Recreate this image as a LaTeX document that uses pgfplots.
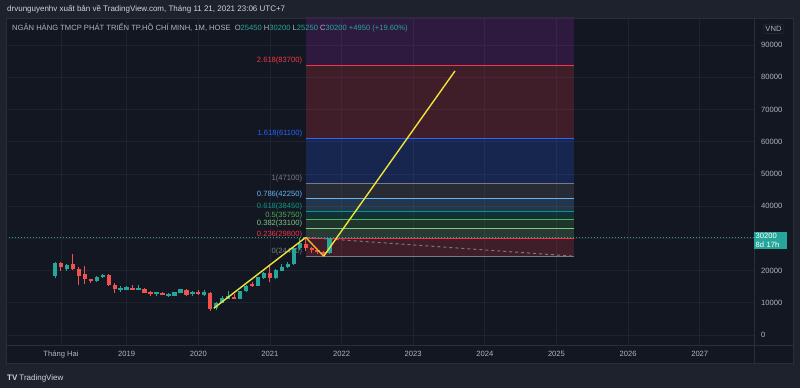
\documentclass[border=0pt]{standalone}
\usepackage{fontspec}
\setmainfont{Liberation Sans}
\usepackage{pgfplots}
\usepackage{pgfplotstable}
\pgfplotsset{compat=1.18}
\definecolor{outerbg}{HTML}{1E222D}
\definecolor{panebg}{HTML}{131722}
\definecolor{bordc}{HTML}{2A2E39}
\definecolor{gridc}{HTML}{1F2330}
\definecolor{axtext}{HTML}{B2B5BE}
\definecolor{toptext}{HTML}{D1D4DC}
\definecolor{tvteal}{HTML}{26A69A}
\definecolor{tvred}{HTML}{EF5350}
\definecolor{fgray}{HTML}{787B86}
\definecolor{fred}{HTML}{F23645}
\definecolor{flgreen}{HTML}{81C784}
\definecolor{fgreen}{HTML}{4CAF50}
\definecolor{fteal}{HTML}{089981}
\definecolor{flblue}{HTML}{64B5F6}
\definecolor{fblue}{HTML}{2962FF}
\definecolor{fpurple}{HTML}{9C27B0}
\definecolor{tlyellow}{HTML}{F2E23A}
\definecolor{tlorange}{HTML}{F5B027}

% monthly candles, m = months since Jan 2018
\pgfplotstableread{
m o h l c
0 18300 22750 17600 22250
2 20600 22000 20000 21800
7 16850 18300 16550 18100
8 18100 18800 17750 18550
11 14200 15300 13500 14500
12 14300 15200 14000 14600
14 14200 15400 14100 14500
17 12900 13150 12100 13050
19 12300 12950 11900 12550
20 12200 13400 12000 13250
21 13150 14300 12900 14200
23 12900 13700 12200 13150
25 12450 13900 12200 13350
27 8450 10250 7900 10050
28 10050 12000 9900 11600
29 11500 13750 11300 11750
31 11300 13800 11100 13750
32 13750 15500 13500 15200
34 15300 18000 15100 17900
35 17650 19500 17400 19350
37 17800 20500 17500 20150
38 20000 21950 19800 21250
39 21100 22750 20800 22050
40 22000 27000 21600 26900
41 26900 30000 26300 28450
46 25450 30200 25250 30200
}\upcandles
\pgfplotstableread{
m o h l c
1 22250 22750 19950 21200
3 21900 25150 20150 20400
4 20500 21200 15600 18400
5 18800 21400 15750 17300
6 17400 17500 16250 16850
9 18650 18850 15300 15500
10 15600 16050 13100 14200
13 14700 15400 14000 14100
15 14300 14500 13000 13150
16 13350 13750 12200 12750
18 13050 13300 12300 12350
22 14000 14300 12100 12450
24 13100 13950 12500 12850
26 13150 13350 7600 8000
30 11650 12700 11200 11300
33 15800 16450 14900 15250
36 19350 21700 16350 17800
42 28400 30350 26200 27000
43 27000 27300 25500 26300
44 26300 26600 25100 25700
45 25700 26000 24450 25450
}\downcandles

\newcommand{\fs}{\fontsize{7.6}{9}\selectfont}
\newcommand{\band}[3]{\addplot[fill=#1, fill opacity=0.2, draw=none, forget plot] coordinates {(42,#2) (87,#2) (87,#3) (42,#3)} -- cycle;}
\newcommand{\lvl}[3]{\addplot[#1, line width=1pt, forget plot] coordinates {(42,#2) (87,#2)};
  \node[text=#1, font=\fs, anchor=south east, inner sep=1pt] at (axis cs:41.6,#2) {#3};}
% candle wick and body through quiver (vertical segments)
\newcommand{\candles}[2]{%
  \addplot[#2, line width=1pt, forget plot, quiver={u=0, v=\thisrow{h}-\thisrow{l}}]
    table[x=m, y=l] {#1};
  \addplot[#2, line width=4.4pt, forget plot,
    quiver={u=0, v={2*max(abs(\thisrow{c}-\thisrow{o})/2,330)}}]
    table[x=m, y expr={(\thisrow{o}+\thisrow{c})/2-max(abs(\thisrow{c}-\thisrow{o})/2,330)}] {#1};}

\begin{document}
\begin{tikzpicture}
\fill[outerbg] (0pt,0pt) rectangle (800pt,388pt);
\fill[panebg] (6pt,25pt) rectangle (793pt,370pt);

\begin{axis}[
  at={(6pt,43pt)}, anchor=south west,
  scale only axis, width=748pt, height=327pt,
  xmin=-8.21, xmax=117.09, ymin=-3104, ymax=98397,
  axis line style={draw=none},
  major tick length=0pt,
  scaled y ticks=false, scaled x ticks=false,
  grid=major,
  major grid style={draw=gridc, line width=0.8pt},
  xtick={1,12,24,36,48,60,72,84,96,108},
  xticklabels={Tháng Hai,2019,2020,2021,2022,2023,2024,2025,2026,2027},
  xticklabel style={font=\fs, text=axtext, anchor=center},
  xticklabel shift=9pt,
  ytick={0,10000,20000,30000,40000,50000,60000,70000,80000,90000},
  yticklabels={0,10000,20000,,40000,50000,60000,70000,80000,90000},
  yticklabel pos=right,
  yticklabel style={font=\fs, text=axtext, anchor=west, inner sep=0pt},
  yticklabel shift=7pt,
  clip mode=individual,
]
% Fibonacci extension bands
\band{fred}{24450}{29800}
\band{flgreen}{29800}{33100}
\band{fgreen}{33100}{35750}
\band{fteal}{35750}{38450}
\band{flblue}{38450}{42250}
\band{fgray}{42250}{47100}
\band{fblue}{47100}{61100}
\band{fred}{61100}{83700}
\band{fpurple}{83700}{106400}
\lvl{fgray}{24450}{0(24450)}
\lvl{fred}{29800}{0.236(29800)}
\lvl{flgreen}{33100}{0.382(33100)}
\lvl{fgreen}{35750}{0.5(35750)}
\lvl{fteal}{38450}{0.618(38450)}
\lvl{flblue}{42250}{0.786(42250)}
\lvl{fgray}{47100}{1(47100)}
\lvl{fblue}{61100}{1.618(61100)}
\lvl{fred}{83700}{2.618(83700)}
% price line
\addplot[tvteal, line width=0.8pt, dash pattern=on 1pt off 2pt, forget plot] coordinates {(-8.21,30200) (117.09,30200)};
% candles
\candles{\upcandles}{tvteal}
\candles{\downcandles}{tvred}
% dashed connector of the extension tool
\addplot[fgray, line width=1pt, dash pattern=on 3pt off 3pt, forget plot] coordinates {(42,30300) (87,24450)};
% trend lines
\addplot[tlyellow, line width=1.4pt, forget plot] coordinates {(26.6,8300) (42,30300)};
\addplot[tlorange, line width=1.4pt, forget plot] coordinates {(42,30300) (45,24450)};
\addplot[tlyellow, line width=1.4pt, forget plot] coordinates {(45,24450) (67,81950)};
\coordinate (pl) at (axis cs:117.09,30200);
\end{axis}

% pane borders
\draw[bordc, line width=0.8pt] (6pt,25pt) rectangle (793pt,370pt);
\draw[bordc, line width=0.8pt] (754pt,25pt) -- (754pt,370pt);
\draw[bordc, line width=0.8pt] (6pt,43pt) -- (793pt,43pt);

% price label
\node[fill=tvteal, text=white, anchor=north west, inner sep=1.5pt, font=\fs, align=left, text width=30pt] at ([yshift=6pt]pl) {30200\\8d 17h};

% VND box
\node[draw=bordc, rounded corners=2pt, text=axtext, font=\fs, inner sep=2pt] at (773.5pt,359.3pt) {VND};

% top text
\node[anchor=west, text=toptext, font=\fontsize{8}{10}\selectfont, inner sep=0pt] at (7pt,379pt) {drvunguyenhv xuất bản về TradingView.com, Tháng 11 21, 2021 23:06 UTC+7};

% header legend
\node[anchor=west, text=axtext, font=\fs, inner sep=0pt] at (12pt,360pt) {NGÂN HÀNG TMCP PHÁT TRIỂN TP.HỒ CHÍ MINH, 1M, HOSE\hspace{4pt}O\textcolor{tvteal}{25450} H\textcolor{tvteal}{30200} L\textcolor{tvteal}{25250} C\textcolor{tvteal}{30200} \textcolor{tvteal}{+4950 (+19.60\%)}};

% bottom logo
\node[anchor=west, text=toptext, font=\fontsize{8}{10}\selectfont, inner sep=0pt] at (7pt,10pt) {\textbf{TV}\hspace{2pt}TradingView};
\pgfresetboundingbox
\useasboundingbox (0pt,0pt) rectangle (800pt,388pt);
\end{tikzpicture}
\end{document}
